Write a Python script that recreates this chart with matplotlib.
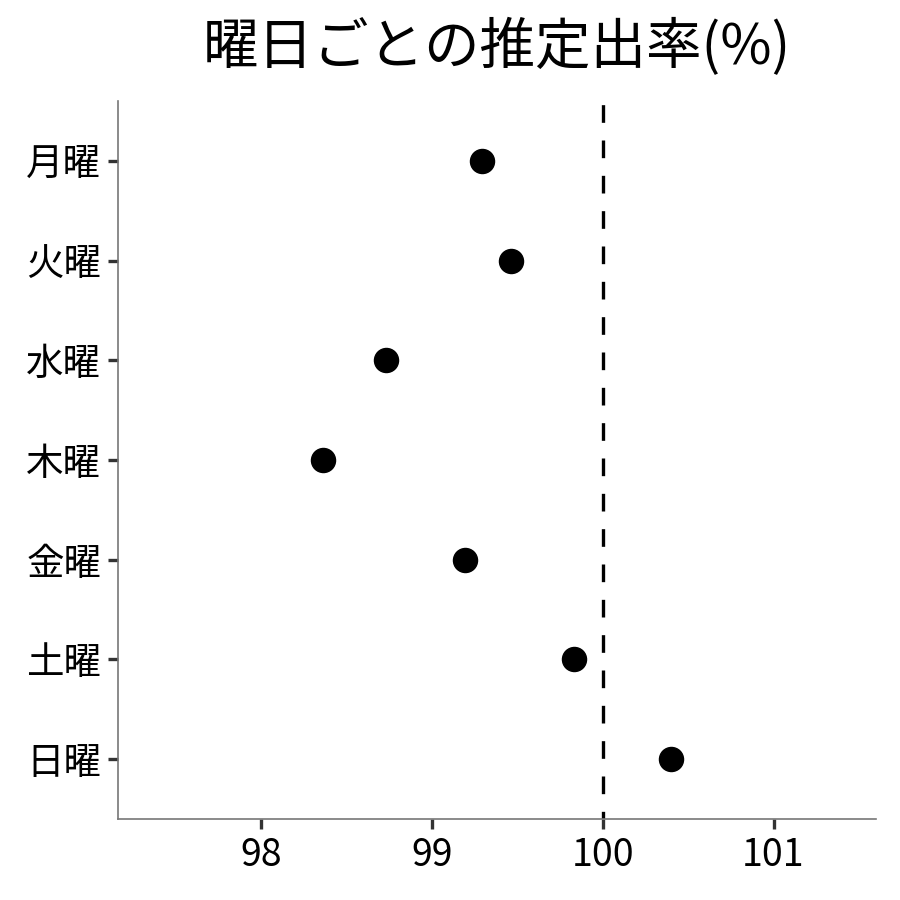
"""Dot plot of estimated birth rate by weekday."""

import matplotlib

matplotlib.use("Agg")
import matplotlib.pyplot as plt

plt.rcParams["font.family"] = ["Noto Sans CJK JP", "DejaVu Sans"]

WEEKDAYS = ["月曜", "火曜", "水曜", "木曜", "金曜", "土曜", "日曜"]
RATES = [99.29, 99.46, 98.73, 98.36, 99.19, 99.83, 100.40]
X_TICKS = [98, 99, 100, 101]
REFERENCE = 100


def main() -> None:
    fig = plt.figure(figsize=(9, 9), dpi=100)
    ax = fig.add_axes([0.1311, 0.09, 0.8422, 0.7978])

    positions = list(range(len(WEEKDAYS)))
    ax.scatter(RATES, positions, s=300, color="black", zorder=3)
    ax.axvline(REFERENCE, color="black", linestyle=(3, (5.3, 5.3)), linewidth=2.4)

    ax.set_yticks(positions)
    ax.set_yticklabels(WEEKDAYS)
    ax.set_ylim(len(WEEKDAYS) - 0.4, -0.6)
    ax.set_xticks(X_TICKS)
    ax.set_xlim(97.16, 101.60)

    for side in ("top", "right"):
        ax.spines[side].set_visible(False)
    for side in ("left", "bottom"):
        ax.spines[side].set_color("#777777")
        ax.spines[side].set_linewidth(1.2)
    ax.tick_params(length=7, width=2.4, color="#333333", labelsize=27, pad=5)

    fig.suptitle("曜日ごとの推定出率(%)", x=0.552, y=0.979, fontsize=40)
    fig.savefig("out.png", dpi=100)


if __name__ == "__main__":
    main()
